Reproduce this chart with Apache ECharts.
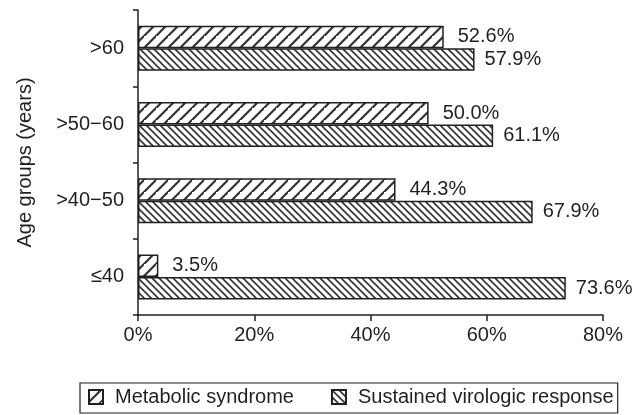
<!DOCTYPE html>
<html>
<head>
<meta charset="utf-8">
<script src="https://cdn.jsdelivr.net/npm/echarts@6/dist/echarts.min.js"></script>
<style>html,body{margin:0;padding:0;background:#fff}#c{width:643px;height:415px}</style>
</head>
<body>
<div id="c"></div>
<script>
// Data (bottom to top on the category axis)
const categories = ['≤40', '>40−50', '>50−60', '>60'];
const metabolicSyndrome = [3.5, 44.3, 50.0, 52.6];
const sustainedResponse = [73.6, 67.9, 61.1, 57.9];
const seriesNames = ['Metabolic syndrome', 'Sustained virologic response'];
const xTicks = [0, 20, 40, 60, 80];

function hatch(period, dir, lw) {
  const c = document.createElement('canvas');
  c.width = period; c.height = period;
  const g = c.getContext('2d');
  g.fillStyle = '#fff'; g.fillRect(0, 0, period, period);
  g.strokeStyle = '#333'; g.lineWidth = lw;
  g.beginPath();
  if (dir === '/') {
    g.moveTo(-period, period * 2); g.lineTo(period * 2, -period);
    g.moveTo(-period * 2, period); g.lineTo(period, -period * 2);
    g.moveTo(0, period * 2); g.lineTo(period * 2, 0);
  } else {
    g.moveTo(-period, -period); g.lineTo(period * 2, period * 2);
    g.moveTo(-period, -period * 2); g.lineTo(period * 2, period);
    g.moveTo(-period, 0); g.lineTo(period, period * 2);
  }
  g.stroke();
  return { image: c, repeat: 'repeat' };
}

const font = 'Liberation Sans, Arial, Helvetica, sans-serif';
const txt = '#231f20';
const chart = echarts.init(document.getElementById('c'), null, { renderer: 'canvas' });
chart.setOption({
  animation: false,
  textStyle: { fontFamily: font },
  grid: { left: 138, right: 40, top: 10, bottom: 100, containLabel: false },
  legend: {
    data: seriesNames,
    left: 80, top: 383,
    icon: 'rect', itemWidth: 14, itemHeight: 14, itemGap: 37,
    borderColor: '#231f20', borderWidth: 1.2, padding: [4, 4, 6, 8],
    textStyle: { fontSize: 20, color: txt, fontFamily: font, padding: [0, 0, 0, 7] }
  },
  xAxis: {
    type: 'value', min: xTicks[0], max: xTicks[xTicks.length - 1], interval: 20,
    axisLine: { show: true, lineStyle: { color: '#231f20', width: 1.5 } },
    axisTick: { show: true, length: 6, lineStyle: { color: '#231f20', width: 1.5 } },
    splitLine: { show: false },
    axisLabel: { formatter: '{value}%', fontSize: 20, color: txt, margin: 10, fontFamily: font }
  },
  yAxis: {
    type: 'category', data: categories,
    name: 'Age groups (years)', nameLocation: 'middle', nameGap: 103, nameRotate: 90,
    nameTextStyle: { fontSize: 20, color: txt, fontFamily: font },
    axisLine: { show: true, lineStyle: { color: '#231f20', width: 1.5 } },
    axisTick: { show: true, length: 5, lineStyle: { color: '#231f20', width: 1.5 } },
    axisLabel: { fontSize: 20, color: txt, margin: 14, fontFamily: font }
  },
  series: [
    {
      name: seriesNames[0], type: 'bar', data: metabolicSyndrome,
      barWidth: 22.5, barGap: '0%',
      itemStyle: { color: hatch(12, '/', 2.2), borderColor: '#231f20', borderWidth: 1.5 },
      label: { show: true, position: 'right', distance: 14, fontSize: 20, color: txt, fontFamily: font,
        formatter: p => p.value.toFixed(1) + '%' }
    },
    {
      name: seriesNames[1], type: 'bar', data: sustainedResponse,
      barWidth: 22.5, barGap: '0%',
      itemStyle: { color: hatch(7, '\\', 1.6), borderColor: '#231f20', borderWidth: 1.5 },
      label: { show: true, position: 'right', distance: 10, fontSize: 20, color: txt, fontFamily: font,
        formatter: p => p.value.toFixed(1) + '%' }
    }
  ]
});
</script>
</body>
</html>
